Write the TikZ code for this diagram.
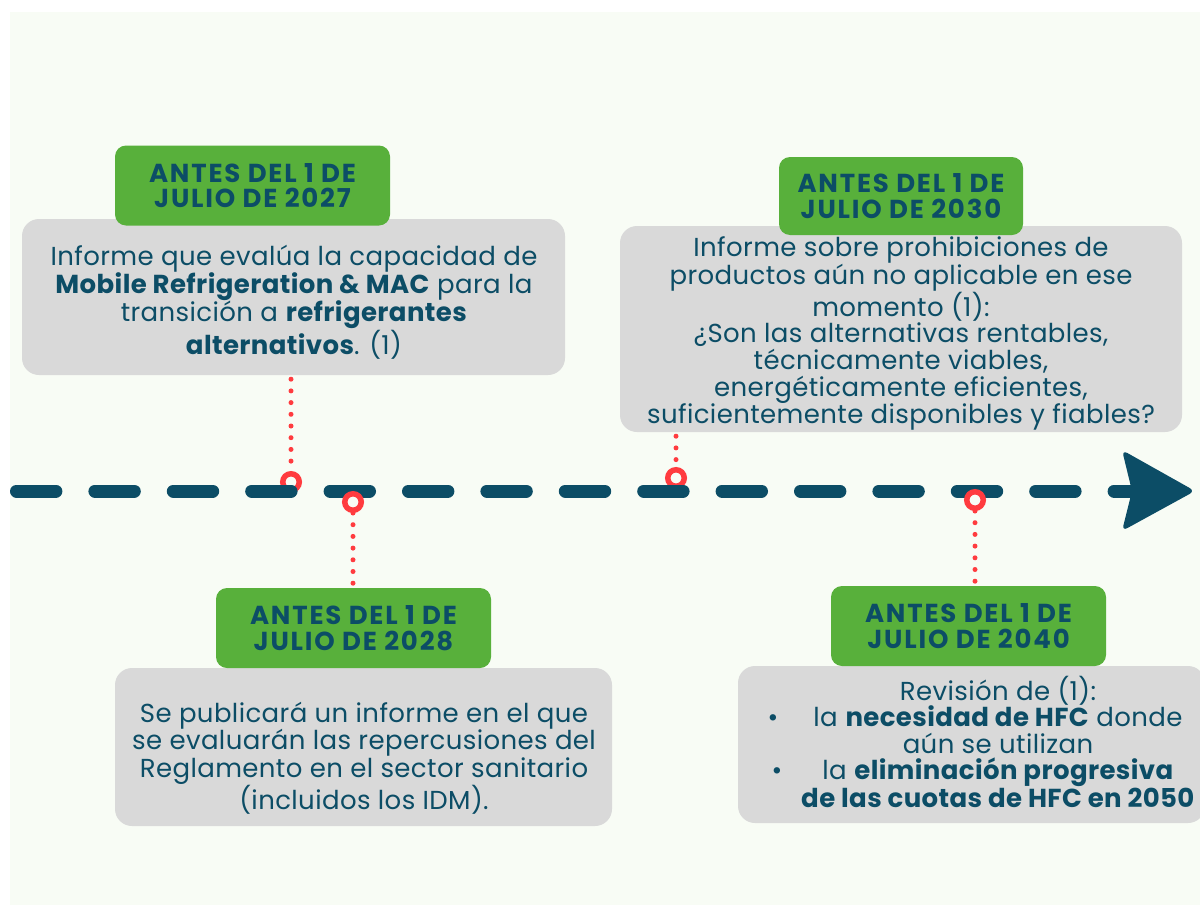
\documentclass[tikz,border=0pt]{standalone}
\usepackage{fontspec}
\setmainfont{Poppins}
\usetikzlibrary{positioning}

\definecolor{bgcol}{HTML}{F8FCF5}
\definecolor{tealcol}{HTML}{0C4D66}
\definecolor{greencol}{HTML}{58B03B}
\definecolor{graycol}{HTML}{D9D9D9}
\definecolor{redcol}{HTML}{FF3B3F}

\tikzset{
    datebox/.style={rectangle, rounded corners=11pt, fill=greencol, text=tealcol,
        font=\bfseries\fontsize{26}{25.5}\selectfont\addfontfeatures{LetterSpace=7}, align=center,
        minimum width=275pt, minimum height=80pt, inner sep=0pt},
    infobox/.style={rectangle, rounded corners=17pt, fill=graycol, inner sep=0pt},
    infotext/.style={text=tealcol, font=\fontsize{26}{28.5}\selectfont\addfontfeatures{LetterSpace=1.5},
        align=center, inner sep=0pt},
    marker/.style={circle, draw=redcol, line width=5.5pt, fill=bgcol, minimum size=16.5pt, inner sep=0pt},
    dotline/.style={redcol, line width=5pt, line cap=round, dash pattern=on 0pt off 11.7pt},
    timeline/.style={tealcol, line width=13pt, line cap=round, dash pattern=on 39.4pt off 39pt}
}

\begin{document}
\begin{tikzpicture}[x=1pt, y=-1pt]
    % Page and background
    \useasboundingbox (0,0) rectangle (1200,905);
    \fill[white] (0,0) rectangle (1200,905);
    \fill[bgcol] (10,12) rectangle (1200,905);

    % Define the points on the timeline
    \coordinate (start) at (16.5,491);
    \coordinate (stop) at (1150,491);
    \coordinate (tip) at (1195,491);

    % Report boxes
    \node[infobox, minimum width=543pt, minimum height=156pt] (info1) at (293.5,297) {};
    \node[infotext, font=\fontsize{26}{28.3}\selectfont\addfontfeatures{LetterSpace=1.5}] (text1) at (294,302)
        {Informe que evalúa la capacidad de\\
         \textbf{Mobile Refrigeration \& MAC} para la\\
         transición a \textbf{refrigerantes}\\
         \textbf{alternativos}. (1)};
    \node[infobox, minimum width=497pt, minimum height=158pt] (info2) at (363.5,747) {};
    \node[infotext, font=\fontsize{26}{27.5}\selectfont\addfontfeatures{LetterSpace=1.5}] (text2) at (364,758)
        {Se publicará un informe en el que\\
         se evaluarán las repercusiones del\\
         Reglamento en el sector sanitario\\
         (incluidos los IDM).};
    \node[infobox, minimum width=562pt, minimum height=206pt] (info3) at (901,329) {};
    \node[infotext, font=\fontsize{26}{26.6}\selectfont\addfontfeatures{LetterSpace=1.5}] (text3) at (901,333.5)
        {Informe sobre prohibiciones de\\
         productos aún no aplicable en ese\\
         momento (1):\\
         ¿Son las alternativas rentables,\\
         técnicamente viables,\\
         energéticamente eficientes,\\
         suficientemente disponibles y fiables?};
    \node[infobox, minimum width=467pt, minimum height=157pt] (info4) at (971.5,744.5) {};
    \node[infotext, font=\fontsize{26}{26.5}\selectfont\addfontfeatures{LetterSpace=1.5}] (text4) at (998,741.5)
        {Revisión de (1):\\
         \llap{\textbullet\hspace{35pt}}la \textbf{necesidad de HFC} donde\\
         aún se utilizan\\
         \llap{\textbullet\hspace{40pt}}la \textbf{eliminación progresiva}\\
         \textbf{de las cuotas de HFC en 2050}};

    % Date labels
    \node[datebox] (date1) at (252.5,185.5) {ANTES DEL 1 DE\\JULIO DE 2027};
    \node[datebox] (date2) at (353.5,628) {ANTES DEL 1 DE\\JULIO DE 2028};
    \node[datebox, minimum width=244pt, minimum height=78pt] (date3) at (901,196) {ANTES DEL 1 DE\\JULIO DE 2030};
    \node[datebox] (date4) at (968.5,626) {ANTES DEL 1 DE\\JULIO DE 2040};

    % Markers above the line
    \node[marker] (mark1) at (291,482) {};
    \node[marker] (mark3) at (676,478) {};
    \draw[dotline] ([yshift=-4pt]info1.south -| mark1) -- (mark1.north);
    \draw[dotline] ([yshift=-4pt]info3.south -| mark3) -- (mark3.north);

    % Draw the timeline
    \draw[timeline] (start) -- (stop);
    \fill[tealcol, rounded corners=6pt] (1132,491) -- (1122,450) -- (tip) -- (1122,531) -- cycle;

    % Markers below the line
    \node[marker] (mark2) at (353,502) {};
    \node[marker] (mark4) at (975,500) {};
    \draw[dotline] (mark2.south) -- ([yshift=4pt]date2.north -| mark2);
    \draw[dotline] (mark4.south) -- ([yshift=4pt]date4.north -| mark4);

\end{tikzpicture}
\end{document}
